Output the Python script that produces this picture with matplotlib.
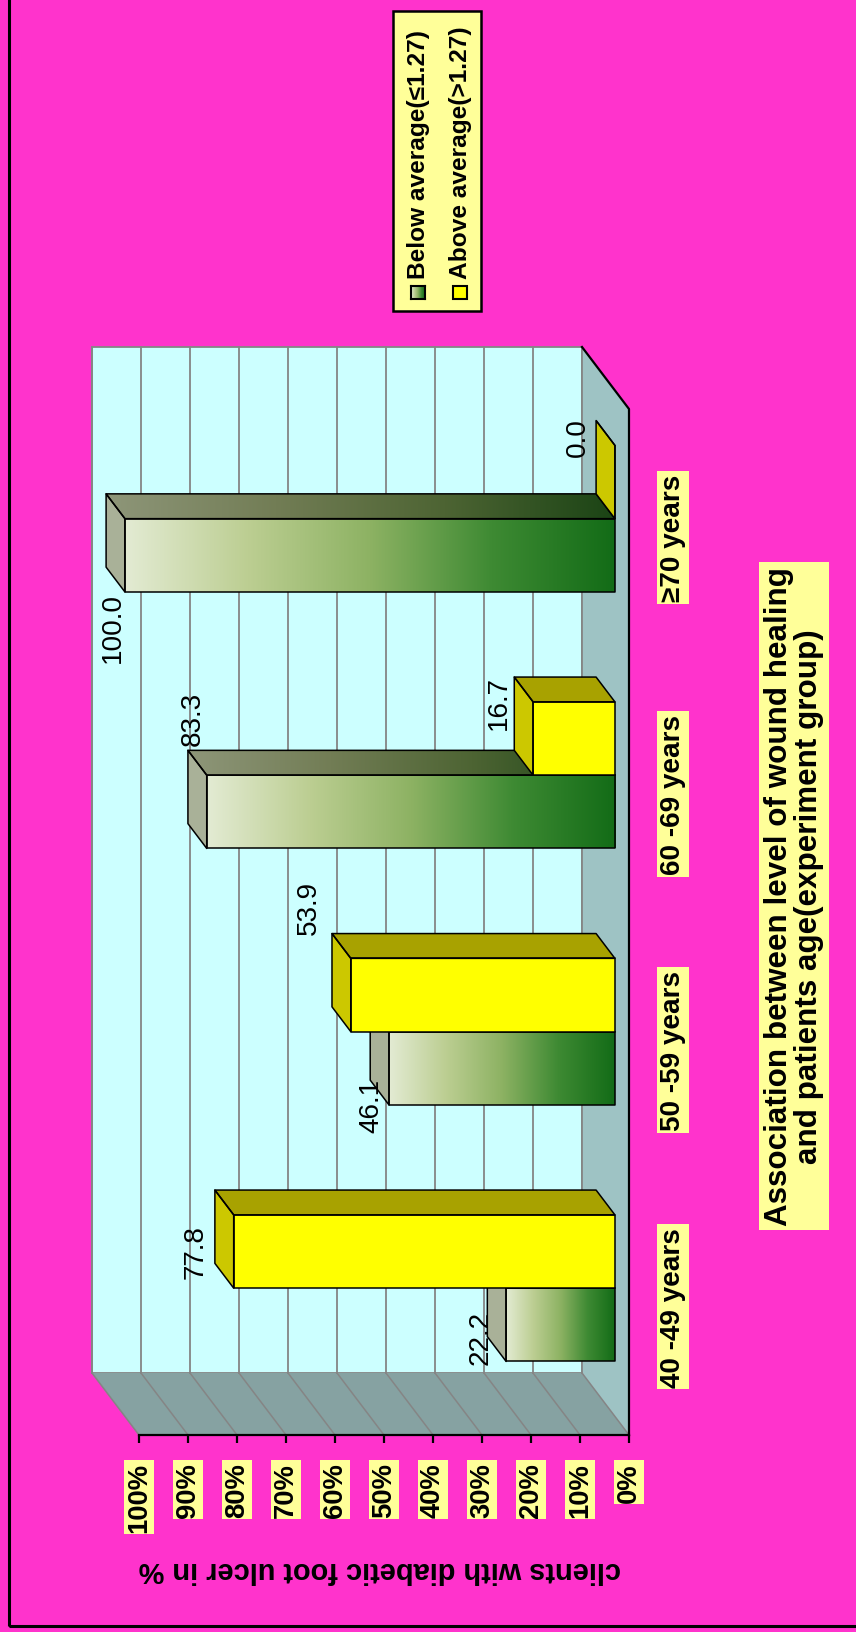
import matplotlib
matplotlib.use('Agg')
import matplotlib.pyplot as plt
import numpy as np
from matplotlib import font_manager
from matplotlib.patches import Polygon, Rectangle
from matplotlib.colors import LinearSegmentedColormap

categories = ['40 -49 years', '50 -59 years', '60 -69 years', '\u226570 years']
below_avg = [22.2, 46.1, 83.3, 100.0]
above_avg = [77.8, 53.9, 16.7, 0.0]
series_names = ['Below average(\u22641.27)', 'Above average(>1.27)']
value_ticks = list(range(0, 101, 10))
tick_labels = ['%d%%' % t for t in value_ticks]
y_title = 'clients with diabetic foot ulcer in %'
x_title = 'Association between level of wound healing\nand patients age(experiment group)'

# label nudges in pixels (right, down) from the top of each bar
below_nudge = [(-25, 12), (-18, 37), (-14, -94), (-12, 72)]
above_nudge = [(-38, 0), (-42, -88), (-34, -37), (-37, -45)]

W, H = 856, 1633
installed = {f.name for f in font_manager.fontManager.ttflist}
if 'Liberation Sans Narrow' in installed:
    plt.rcParams['font.family'] = ['Liberation Sans Narrow', 'Liberation Sans', 'DejaVu Sans']
    FS = 1.0
else:
    plt.rcParams['font.family'] = ['Liberation Sans', 'DejaVu Sans']
    FS = 0.82
BOX = '#FFFF99'

fig = plt.figure(figsize=(W / 100, H / 100), dpi=100, facecolor='#FF33CC')
ax = fig.add_axes([0, 0, 1, 1])
ax.set_axis_off()
ax.patch.set_visible(False)

# chart is laid on its side: x = value (%), growing leftwards; y = category slot
PX_PER_PCT = 4.9
PX_PER_CAT = 256.5
X0, Y0 = 629, 1436
ax.set_xlim(X0 / PX_PER_PCT, (X0 - W) / PX_PER_PCT)
ax.set_ylim((Y0 - H) / PX_PER_CAT, Y0 / PX_PER_CAT)
DX = 47 / PX_PER_PCT      # depth offset of the walls
DY = 62 / PX_PER_CAT
ncat = len(categories)


def proj(v, u, d):
    return (v + d * DX, u + d * DY)


def fig_xy(x, y):
    return x / W, 1 - y / H


def poly(pts, fc, ec='none', lw=1.1, z=1):
    p = Polygon(pts, closed=True, fc=fc, ec=ec, lw=lw, zorder=z, joinstyle='round')
    ax.add_patch(p)
    return p


# walls and floor
grid_c = '#858585'
poly([proj(0, 0, 1), proj(100, 0, 1), proj(100, ncat, 1), proj(0, ncat, 1)],
     '#CCFFFF', grid_c, 1.3, z=1)
poly([proj(0, 0, 0), proj(100, 0, 0), proj(100, 0, 1), proj(0, 0, 1)], '#86A2A2', z=1)
poly([proj(0, 0, 0), proj(0, ncat, 0), proj(0, ncat, 1), proj(0, 0, 1)], '#9EC3C4', z=1)
for t in value_ticks:
    b, tp = proj(t, 0, 1), proj(t, ncat, 1)
    ax.plot([b[0], tp[0]], [b[1], tp[1]], color=grid_c, lw=1.3, zorder=1.5)
    f = proj(t, 0, 0)
    ax.plot([f[0], b[0]], [f[1], b[1]], color=grid_c, lw=1.1, zorder=1.5)

# floor front edge and value axis
e = [proj(0, 0, 0), proj(0, ncat, 0), proj(0, ncat, 1)]
ax.plot([p[0] for p in e], [p[1] for p in e], color='k', lw=1.6, zorder=2)
ax.plot([0, 100], [0, 0], color='k', lw=1.6, zorder=2)
ax.plot(value_ticks, [0] * len(value_ticks), ls='none', marker=3, ms=6, mew=1.6,
        color='k', zorder=2)
for t, lab in zip(value_ticks, tick_labels):
    ax.annotate(lab, xy=(t, 0), xytext=(0, -27), textcoords='offset pixels',
                rotation=90, rotation_mode='anchor', ha='right', va='center',
                fontsize=24 * FS, fontweight='bold',
                bbox=dict(boxstyle='square,pad=0.08', fc=BOX, ec='none'))
for i, cat in enumerate(categories):
    ax.annotate(cat, xy=(0, i + 0.5), xytext=(44, 0), textcoords='offset pixels',
                rotation=90, ha='center', va='center', fontsize=24.5 * FS,
                fontweight='bold',
                bbox=dict(boxstyle='square,pad=0.1', fc=BOX, ec='none'))

# bars
green_front = LinearSegmentedColormap.from_list(
    'gf', ['#E3EBD3', '#BCCE92', '#8DB263', '#3E8A33', '#136C17'])
green_side = LinearSegmentedColormap.from_list(
    'gs', ['#8E9679', '#727D55', '#4D6433', '#1B4415'])
ramp = np.linspace(1, 0, 256)[None, :]
bar_w = 1 / 3.5
d0, d1 = 0.3, 0.7


def draw_bar(v, ul, uh, style, z):
    base_f, top_f = proj(0, ul, d0), proj(v, uh, d0)
    front = [proj(0, ul, d0), proj(v, ul, d0), proj(v, uh, d0), proj(0, uh, d0)]
    side = [proj(0, uh, d0), proj(v, uh, d0), proj(v, uh, d1), proj(0, uh, d1)]
    end = [proj(v, ul, d0), proj(v, uh, d0), proj(v, uh, d1), proj(v, ul, d1)]
    if style == 'green':
        sp = poly(side, 'none', z=z)
        if v > 0:
            im = ax.imshow(ramp, cmap=green_side, aspect='auto', interpolation='bilinear',
                           extent=[proj(0, 0, d0)[0], proj(v, 0, d1)[0],
                                   proj(0, uh, d0)[1], proj(0, uh, d1)[1]], zorder=z)
            im.set_clip_path(sp)
            ax.imshow(ramp, cmap=green_front, aspect='auto', interpolation='bilinear',
                      extent=[base_f[0], top_f[0], base_f[1], top_f[1]], zorder=z)
        poly(end, '#A9B198', z=z)
    else:
        poly(side, '#A8A200', z=z)
        poly(front, '#FFFF00', z=z)
        poly(end, '#CCC800', z=z)
    for pts in (front, side, end):
        poly(pts, 'none', 'k', 1.1, z=z + 0.1)


z = 3
for i in range(ncat):
    c = i + 0.5
    draw_bar(below_avg[i], c - bar_w, c, 'green', z)
    draw_bar(above_avg[i], c, c + bar_w, 'yellow', z + 1)
    z += 2

for vals, nudge, off in ((below_avg, below_nudge, -bar_w / 2),
                         (above_avg, above_nudge, bar_w / 2)):
    for i, v in enumerate(vals):
        dx, dy = nudge[i]
        ax.annotate('%.1f' % v, xy=proj(v, i + 0.5 + off, d0), xytext=(dx, -dy),
                    textcoords='offset pixels', rotation=90, ha='center', va='center',
                    fontsize=24.5 * FS, zorder=20)

# legend
fig.patches.append(Rectangle(fig_xy(393, 312), 88 / W, 300 / H, transform=fig.transFigure,
                             fc=BOX, ec='k', lw=1.8, zorder=5))
for k, (name, cx) in enumerate(zip(series_names, [418, 460])):
    mx, my = fig_xy(cx - 7, 300)
    if k == 0:
        lax = fig.add_axes([mx, my, 14 / W, 13 / H], zorder=8)
        lax.imshow(np.linspace(0, 1, 32)[None, :], cmap=green_front, aspect='auto')
        lax.set_xticks([])
        lax.set_yticks([])
        for s in lax.spines.values():
            s.set_linewidth(1.5)
    else:
        fig.patches.append(Rectangle((mx, my), 14 / W, 13 / H, transform=fig.transFigure,
                                     fc='#FFFF00', ec='k', lw=1.5, zorder=6))
    fig.text(*fig_xy(cx, 279), name, rotation=90, rotation_mode='anchor', ha='left',
             va='center', fontsize=21.5 * FS, fontweight='bold', zorder=7)

fig.text(*fig_xy(794, 897), x_title, rotation=90, ha='center', va='center',
         multialignment='center', fontsize=27.5 * FS, fontweight='bold', linespacing=1.0,
         bbox=dict(boxstyle='square,pad=0.15', fc=BOX, ec='none'))
fig.text(*fig_xy(380, 1570), y_title, rotation=180, ha='center', va='center',
         fontsize=25.5 * FS, fontweight='bold')

# outer frame
fig.patches.append(Rectangle(fig_xy(9, 1627), 1.2, 1.2, transform=fig.transFigure,
                             fc='none', ec='k', lw=2.2, zorder=10))

fig.savefig('out.png', dpi=100, facecolor=fig.get_facecolor())
